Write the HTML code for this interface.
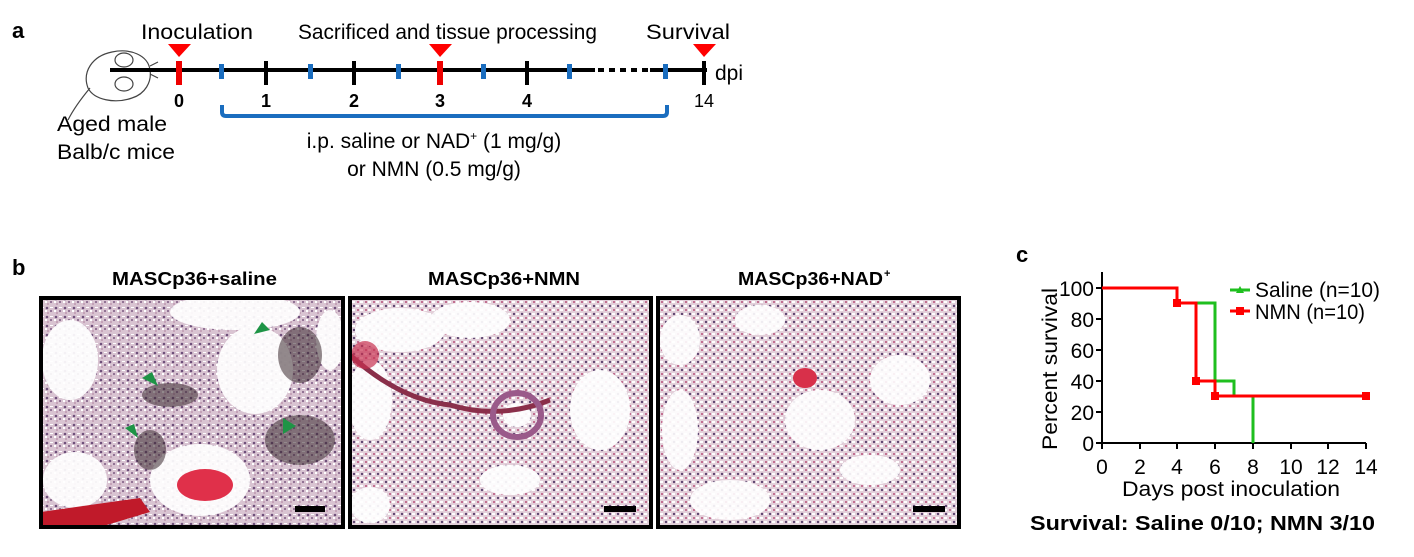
<!DOCTYPE html>
<html><head><meta charset="utf-8"><style>
body{margin:0;background:#fff;}
svg{display:block;font-family:"Liberation Sans",sans-serif;}
</style></head><body>
<svg width="1414" height="557" viewBox="0 0 1414 557" xmlns="http://www.w3.org/2000/svg">
<defs>
<pattern id="tis" width="9" height="9" patternUnits="userSpaceOnUse">
<rect width="9" height="9" fill="#d9c4d2"/>
<circle cx="2" cy="2" r="1.3" fill="#6e4f7a"/>
<circle cx="6" cy="5" r="1.1" fill="#8a6a8e"/>
<circle cx="3" cy="7" r="0.9" fill="#b58ca6"/>
<rect x="5" y="1" width="3" height="1" fill="#fff"/>
<rect x="0" y="4" width="2" height="2" fill="#fff"/>
</pattern>
<pattern id="tis2" width="8" height="8" patternUnits="userSpaceOnUse">
<rect width="8" height="8" fill="#e3d0da"/>
<circle cx="2" cy="2" r="1.2" fill="#5e4570"/>
<circle cx="6" cy="6" r="1" fill="#b8507a"/>
<rect x="4" y="1" width="3" height="2" fill="#fff"/>
<rect x="0" y="5" width="3" height="2" fill="#fff"/>
</pattern>
<clipPath id="c1"><rect x="41" y="298" width="302" height="229"/></clipPath>
<clipPath id="c2"><rect x="350" y="298" width="301" height="229"/></clipPath>
<clipPath id="c3"><rect x="658" y="298" width="301" height="229"/></clipPath>
</defs>

<!-- Panel a -->
<text x="12" y="38" font-size="22" font-weight="bold">a</text>
<text x="141" y="39" font-size="21" textLength="112" lengthAdjust="spacingAndGlyphs">Inoculation</text>
<text x="298" y="39" font-size="21" textLength="299" lengthAdjust="spacingAndGlyphs">Sacrificed and tissue processing</text>
<text x="646" y="39" font-size="21" textLength="84" lengthAdjust="spacingAndGlyphs">Survival</text>
<polygon points="168,44 191,44 179,57" fill="#f00"/>
<polygon points="429,44 452,44 440,57" fill="#f00"/>
<polygon points="693,44 716,44 704,57" fill="#f00"/>
<!-- mouse -->
<g fill="none" stroke="#444" stroke-width="1.2">
<path d="M150,70 C148,55 130,48 112,52 C92,56 82,72 88,88 C94,100 115,104 132,98 C145,94 152,82 150,70 Z"/>
<ellipse cx="124" cy="60" rx="9" ry="7"/>
<ellipse cx="124" cy="84" rx="9" ry="7"/>
<path d="M90,88 C80,100 72,112 68,120"/>
<path d="M150,66 l8,-4 M150,70 l9,0 M150,74 l8,4"/>
</g>
<text x="57" y="131" font-size="21" textLength="110" lengthAdjust="spacingAndGlyphs">Aged male</text>
<text x="57" y="159" font-size="21" textLength="118" lengthAdjust="spacingAndGlyphs">Balb/c mice</text>
<!-- timeline -->
<rect x="110" y="68" width="485" height="4" fill="#000"/>
<rect x="650" y="68" width="57" height="4" fill="#000"/>
<g fill="#000"><rect x="598" y="68" width="6" height="4"/><rect x="609" y="68" width="6" height="4"/><rect x="620" y="68" width="6" height="4"/><rect x="631" y="68" width="6" height="4"/><rect x="642" y="68" width="6" height="4"/></g>
<rect x="176" y="61" width="6" height="24" fill="#e00"/>
<rect x="437" y="61" width="6" height="24" fill="#e00"/>
<g fill="#000"><rect x="264" y="61" width="4" height="24"/><rect x="352" y="61" width="4" height="24"/><rect x="525" y="61" width="4" height="24"/><rect x="702" y="61" width="4" height="24"/></g>
<g fill="#1a6dbf"><rect x="219" y="64" width="5" height="15"/><rect x="308" y="64" width="5" height="15"/><rect x="396" y="64" width="5" height="15"/><rect x="481" y="64" width="5" height="15"/><rect x="567" y="64" width="5" height="15"/><rect x="663" y="64" width="5" height="15"/></g>
<text x="715" y="80" font-size="21">dpi</text>
<g font-size="18" font-weight="bold" text-anchor="middle"><text x="179" y="107">0</text><text x="266" y="107">1</text><text x="354" y="107">2</text><text x="440" y="107">3</text><text x="527" y="107">4</text></g>
<text x="704" y="107" font-size="18" text-anchor="middle">14</text>
<path d="M222,105 V112 Q222,116 226,116 H663 Q667,116 667,112 V105" fill="none" stroke="#1a6dbf" stroke-width="4"/>
<text x="434" y="148" font-size="21" text-anchor="middle">i.p. saline or NAD<tspan font-size="12" dy="-8">+</tspan><tspan dy="8"> (1 mg/g)</tspan></text>
<text x="434" y="176" font-size="21" text-anchor="middle">or NMN (0.5 mg/g)</text>

<!-- Panel b -->
<text x="12" y="275" font-size="22" font-weight="bold">b</text>
<g font-size="18" font-weight="bold">
<text x="112" y="285" textLength="165" lengthAdjust="spacingAndGlyphs">MASCp36+saline</text>
<text x="428" y="285" textLength="152" lengthAdjust="spacingAndGlyphs">MASCp36+NMN</text>
<text x="738" y="285" textLength="145" lengthAdjust="spacingAndGlyphs">MASCp36+NAD</text><text x="884" y="277" font-size="11">+</text>
</g>
<g clip-path="url(#c1)">
<rect x="41" y="298" width="302" height="229" fill="url(#tis)"/>
<g fill="#fff" opacity="0.92">
<ellipse cx="235" cy="312" rx="65" ry="18"/>
<ellipse cx="255" cy="370" rx="38" ry="44"/>
<ellipse cx="70" cy="360" rx="28" ry="40"/>
<ellipse cx="75" cy="480" rx="32" ry="28"/>
<ellipse cx="200" cy="480" rx="50" ry="36"/>
<ellipse cx="330" cy="340" rx="14" ry="30"/>
</g>
<g fill="#3a2a30" opacity="0.55">
<ellipse cx="170" cy="395" rx="28" ry="12"/>
<ellipse cx="300" cy="355" rx="22" ry="28"/>
<ellipse cx="300" cy="440" rx="35" ry="25"/>
<ellipse cx="150" cy="450" rx="16" ry="20"/>
</g>
<ellipse cx="205" cy="485" rx="28" ry="16" fill="#e0304a"/>
<path d="M41,512 L90,505 L140,498 L150,512 L100,527 L41,527 Z" fill="#c01a2a"/>
<polygon points="254,334 270,330 262,322" fill="#1e9446"/>
<polygon points="142,378 158,386 152,372" fill="#1e9446"/>
<polygon points="283,418 296,426 283,434" fill="#1e9446"/>
<polygon points="125,428 138,438 134,424" fill="#1e9446"/>
<rect x="295" y="506" width="30" height="6" fill="#000"/>
</g>
<rect x="41" y="298" width="302" height="229" fill="none" stroke="#000" stroke-width="4"/>

<g clip-path="url(#c2)">
<rect x="350" y="298" width="301" height="229" fill="url(#tis2)"/>
<g fill="#fff" opacity="0.92">
<ellipse cx="400" cy="330" rx="45" ry="22"/>
<ellipse cx="470" cy="320" rx="40" ry="18"/>
<ellipse cx="517" cy="415" rx="14" ry="12"/>
<ellipse cx="370" cy="400" rx="22" ry="40"/>
<ellipse cx="600" cy="410" rx="30" ry="40"/>
<ellipse cx="510" cy="480" rx="30" ry="15"/>
<ellipse cx="370" cy="505" rx="20" ry="18"/>
</g>
<path d="M350,355 Q400,400 450,405 Q500,420 550,400" fill="none" stroke="#8a2f4a" stroke-width="5"/>
<ellipse cx="365" cy="355" rx="14" ry="14" fill="#c83050" opacity="0.7"/>
<ellipse cx="517" cy="415" rx="24" ry="22" fill="none" stroke="#9a5a8a" stroke-width="6"/>
<rect x="604" y="506" width="32" height="6" fill="#000"/>
</g>
<rect x="350" y="298" width="301" height="229" fill="none" stroke="#000" stroke-width="4"/>

<g clip-path="url(#c3)">
<rect x="658" y="298" width="301" height="229" fill="url(#tis2)"/>
<g fill="#fff" opacity="0.9">
<ellipse cx="680" cy="340" rx="20" ry="25"/>
<ellipse cx="760" cy="320" rx="25" ry="15"/>
<ellipse cx="820" cy="420" rx="35" ry="30"/>
<ellipse cx="680" cy="430" rx="18" ry="40"/>
<ellipse cx="900" cy="380" rx="30" ry="25"/>
<ellipse cx="870" cy="470" rx="30" ry="15"/>
<ellipse cx="730" cy="500" rx="40" ry="20"/>
</g>
<ellipse cx="805" cy="378" rx="12" ry="10" fill="#d8304a"/>
<rect x="913" y="506" width="32" height="6" fill="#000"/>
</g>
<rect x="658" y="298" width="301" height="229" fill="none" stroke="#000" stroke-width="4"/>

<!-- Panel c -->
<text x="1016" y="262" font-size="22" font-weight="bold">c</text>
<g stroke="#000" stroke-width="2" fill="none">
<path d="M1102,272 V443 H1366"/>
<path d="M1096,288 h6 M1096,319 h6 M1096,350 h6 M1096,381 h6 M1096,412 h6 M1096,443 h6"/>
<path d="M1102,443 v6 M1140,443 v6 M1177,443 v6 M1215,443 v6 M1253,443 v6 M1291,443 v6 M1328,443 v6 M1366,443 v6"/>
</g>
<g font-size="21" text-anchor="end"><text x="1094" y="296">100</text><text x="1094" y="327">80</text><text x="1094" y="358">60</text><text x="1094" y="389">40</text><text x="1094" y="420">20</text><text x="1094" y="451">0</text></g>
<g font-size="21" text-anchor="middle"><text x="1102" y="474">0</text><text x="1140" y="474">2</text><text x="1177" y="474">4</text><text x="1215" y="474">6</text><text x="1253" y="474">8</text><text x="1291" y="474">10</text><text x="1328" y="474">12</text><text x="1366" y="474">14</text></g>
<text x="1122" y="496" font-size="21" textLength="218" lengthAdjust="spacingAndGlyphs">Days post inoculation</text>
<text transform="translate(1057,450) rotate(-90)" font-size="21" textLength="162" lengthAdjust="spacingAndGlyphs">Percent survival</text>
<path d="M1177,303 H1215 V381 H1234 V396 H1253 V443" fill="none" stroke="#1fbf1f" stroke-width="3"/>
<path d="M1102,288 H1177 V303 H1196 V381 H1215 V396 H1366" fill="none" stroke="#f00" stroke-width="3"/>
<g fill="#f00"><rect x="1173" y="299" width="8" height="8"/><rect x="1192" y="377" width="8" height="8"/><rect x="1211" y="392" width="8" height="8"/><rect x="1362" y="392" width="8" height="8"/></g>
<path d="M1230,290 H1250" stroke="#1fbf1f" stroke-width="3"/><polygon points="1236,293 1244,293 1240,286" fill="#1fbf1f"/>
<text x="1255" y="297" font-size="21" textLength="125" lengthAdjust="spacingAndGlyphs">Saline (n=10)</text>
<path d="M1230,311 H1250" stroke="#f00" stroke-width="3"/><rect x="1236" y="307" width="8" height="8" fill="#f00"/>
<text x="1255" y="319" font-size="21" textLength="110" lengthAdjust="spacingAndGlyphs">NMN (n=10)</text>
<text x="1030" y="530" font-size="20" font-weight="bold" textLength="345" lengthAdjust="spacingAndGlyphs">Survival: Saline 0/10; NMN 3/10</text>
</svg>
</body></html>
